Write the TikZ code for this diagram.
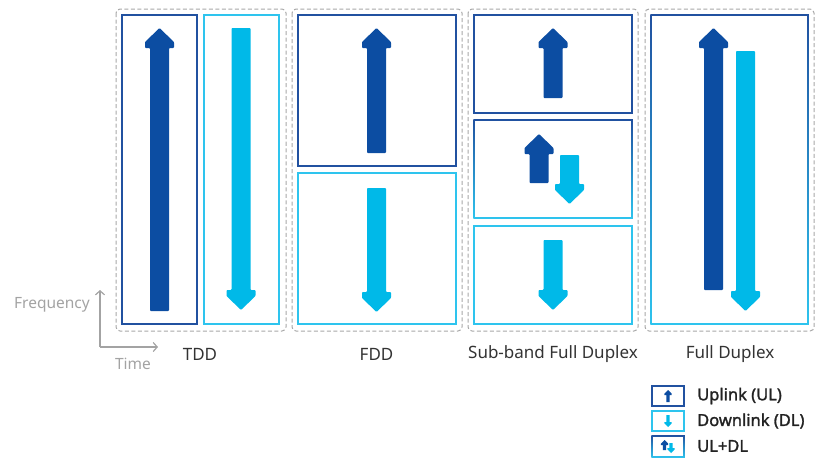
\documentclass[tikz,border=0pt]{standalone}
\usepackage{fontspec}
\setmainfont{Noto Sans}
\newfontfamily\legfont{Noto Sans}[FakeBold=1.6]
\usetikzlibrary{arrows.meta}
\definecolor{dk}{HTML}{0C4DA2}
\definecolor{cy}{HTML}{00B9E8}
\definecolor{dkb}{HTML}{2151A0}
\definecolor{cyb}{HTML}{2EC4EE}
\definecolor{grp}{HTML}{A8A8A8}
\definecolor{axg}{HTML}{A3A3A3}
\definecolor{txt}{HTML}{333333}
\definecolor{legtxt}{HTML}{222222}
\newcommand\UpArr[4]{\fill[#4,rounded corners=0.8pt] (#1,#2) -- (#1+14.5,#2+14) -- (#1+14.5,#2+20) -- (#1+9.5,#2+20) -- (#1+9.5,#3) -- (#1-9.5,#3) -- (#1-9.5,#2+20) -- (#1-14.5,#2+20) -- (#1-14.5,#2+14) -- cycle;}
\newcommand\DnArr[4]{\fill[#4,rounded corners=0.8pt] (#1,#2) -- (#1-14.5,#2-14) -- (#1-14.5,#2-20) -- (#1-9.5,#2-20) -- (#1-9.5,#3) -- (#1+9.5,#3) -- (#1+9.5,#2-20) -- (#1+14.5,#2-20) -- (#1+14.5,#2-14) -- cycle;}
\newcommand\SUpArr[4]{\fill[#4] (#1,#2) -- (#1+3.6,#2+3.6) -- (#1+3.6,#2+5) -- (#1+1.6,#2+5) -- (#1+1.6,#3) -- (#1-1.6,#3) -- (#1-1.6,#2+5) -- (#1-3.6,#2+5) -- (#1-3.6,#2+3.6) -- cycle;}
\newcommand\SDnArr[4]{\fill[#4] (#1,#2) -- (#1-3.6,#2-3.6) -- (#1-3.6,#2-5) -- (#1-1.6,#2-5) -- (#1-1.6,#3) -- (#1+1.6,#3) -- (#1+1.6,#2-5) -- (#1+3.6,#2-5) -- (#1+3.6,#2-3.6) -- cycle;}
\newcommand\GradBox[4]{\shade[top color=dkb,bottom color=cyb] (#1-0.75,#2-0.75) rectangle (#3+0.75,#4+0.75);
  \fill[white] (#1+0.75,#2+0.75) rectangle (#3-0.75,#4-0.75);}
\begin{document}
\begin{tikzpicture}[x=1pt,y=-1pt,
  grpbox/.style={draw=grp,line width=1pt,dash pattern=on 4pt off 2.5pt,rounded corners=4pt},
  ulbox/.style={draw=dkb,line width=1.5pt},
  dlbox/.style={draw=cyb,line width=1.5pt},
  lbl/.style={font=\fontsize{17}{20}\selectfont,text=txt,inner sep=0pt},
  axlbl/.style={font=\fontsize{15.5}{18}\selectfont,text=axg,inner sep=0pt},
  leg/.style={font=\legfont\fontsize{16.5}{19}\selectfont,text=legtxt,inner sep=0pt,anchor=west},
  axarr/.style={draw=axg,line width=1.2pt,-{Straight Barb[length=4pt,width=9pt,line width=1.2pt]}}]
\useasboundingbox (0,0) rectangle (824,458);
% group boxes
\draw[grpbox] (116,9) rectangle (286,331);
\draw[grpbox] (292,9) rectangle (462,331);
\draw[grpbox] (468,9) rectangle (638,331);
\draw[grpbox] (645,9) rectangle (814,331);
% TDD
\draw[ulbox] (122,15) rectangle (197,324);
\draw[dlbox] (204,15) rectangle (279,324);
\UpArr{159.5}{28}{311}{dk}
\DnArr{241}{310}{28}{cy}
% FDD
\draw[ulbox] (298,15) rectangle (456,166);
\draw[dlbox] (298,173) rectangle (456,324);
\UpArr{376.5}{28}{153}{dk}
\DnArr{376.5}{312}{188}{cy}
% SBFD
\draw[ulbox] (474,15) rectangle (632,113);
\GradBox{474}{120}{632}{218}
\draw[dlbox] (474,226) rectangle (632,324);
\UpArr{553}{28}{98}{dk}
\UpArr{539}{134}{183}{dk}
\DnArr{569.5}{204}{155}{cy}
\DnArr{553}{310}{240}{cy}
% FD
\GradBox{651}{15}{808}{324}
\UpArr{713.5}{28}{290}{dk}
\DnArr{745.5}{311}{51}{cy}
% labels
\node[lbl] (tdd) at (200,354) {TDD};
\node[lbl] (fdd) at (376.5,354) {FDD};
\node[lbl] (sbfd) at (553,354) {Sub-band Full Duplex};
\node[lbl] (fd) at (730,354) {Full Duplex};
% axes
\coordinate (o) at (100,347);
\coordinate (fy) at (100,290);
\coordinate (tx) at (158,347);
\draw[axarr] (o) -- (fy);
\draw[axarr] (o) -- (tx);
\node[axlbl,anchor=east] (freq) at (90,305) {Frequency};
\node[axlbl] (time) at (133,364) {Time};
% legend
\draw[ulbox] (652,386) rectangle (684,406);
\SUpArr{668}{390}{402}{dk}
\draw[dlbox] (652,411) rectangle (684,431);
\SDnArr{668}{427}{415}{cy}
\GradBox{652}{436}{684}{457}
\SUpArr{664.5}{440}{450}{dk}
\SDnArr{671}{453}{443}{cy}
\node[leg] (l1) at (697,396) {Uplink (UL)};
\node[leg] (l2) at (697,421) {Downlink (DL)};
\node[leg] (l3) at (697,446) {UL+DL};
\end{tikzpicture}
\end{document}
